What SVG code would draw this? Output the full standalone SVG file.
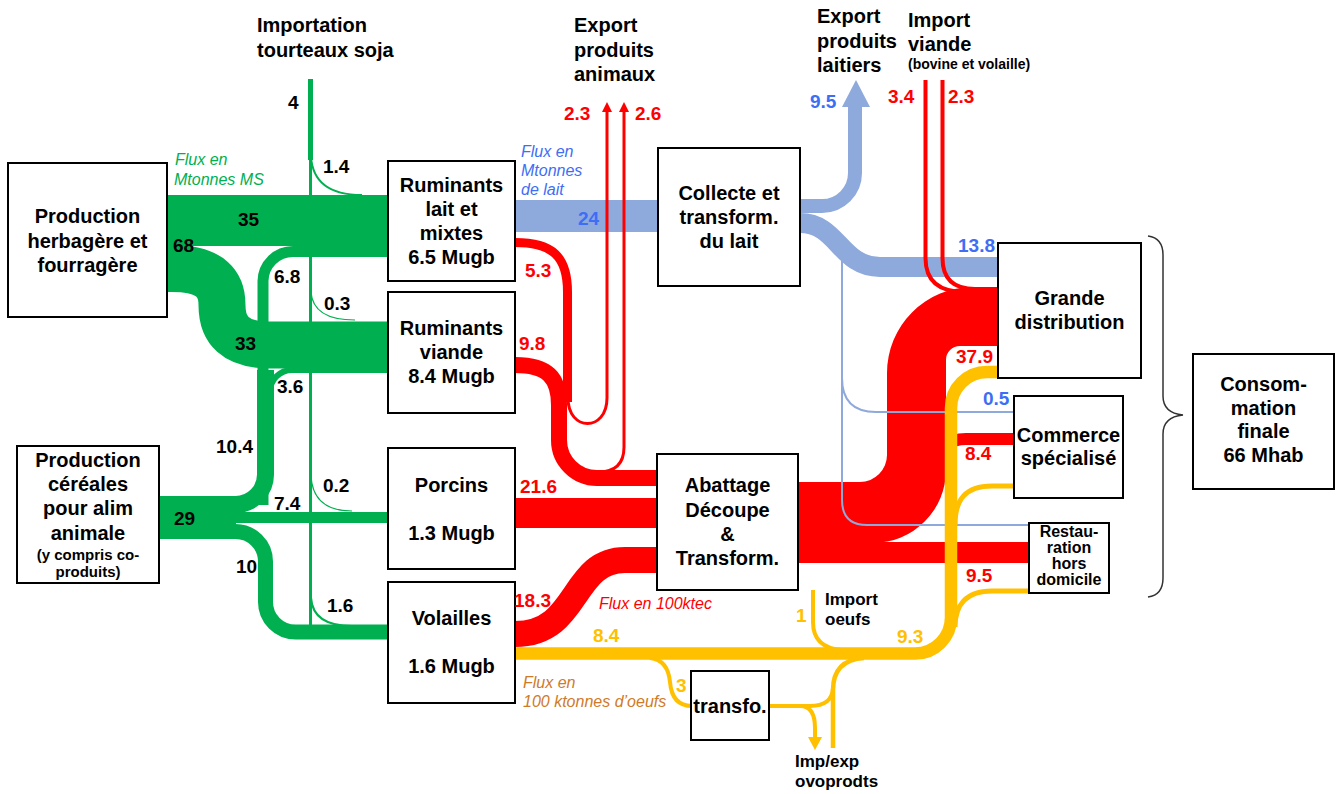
<svg xmlns="http://www.w3.org/2000/svg" width="1344" height="794" viewBox="0 0 1344 794">
<style>
text{font-family:"Liberation Sans",Arial,sans-serif;font-weight:bold;fill:#000}
.n{font-size:20px;text-anchor:middle}
.h{font-size:20px}
.v{font-size:19px}
.s{font-size:17px}
.rs{font-size:16px;text-anchor:middle}
.it{font-style:italic;font-weight:normal;font-size:16px}
.box{fill:#fff;stroke:#000;stroke-width:2}
.g{fill:none;stroke:#00B050}
.r{fill:none;stroke:#FF0000}
.bl{fill:none;stroke:#8EA9DB}
.y{fill:none;stroke:#FFC000}
.tr{fill:#FF0000}
.tb{fill:#3D6EF5}
.ty{fill:#FFC000}
</style>

<g id="connectors">
<!-- green -->
<rect x="167" y="195" width="221" height="51" fill="#00B050"/>
<path class="g" stroke-width="47" d="M160,268.5 H172 C212,268.5 222,285 222,305 C222,330 235,345 270,345 H388"/>
<path class="g" stroke-width="11" d="M263,505 V281 A30,30 0 0 1 293,251.5 H388"/>
<path class="g" stroke-width="17" d="M265.5,370 V474 A30,30 0 0 1 235.5,504.5 H160"/>
<path class="g" stroke-width="6" d="M270,402 V392 A22,22 0 0 1 292,370 H388"/>
<rect x="159" y="497" width="77" height="41" fill="#00B050"/>
<path class="g" stroke-width="11" d="M200,517.5 H388"/>
<path class="g" stroke-width="15" d="M160,531.5 H235 A30,30 0 0 1 265.5,561.5 V602 A30,30 0 0 0 295.5,632 H388"/>
<path class="g" stroke-width="5" d="M310.5,79 V160"/>
<path class="g" stroke-width="3" d="M310.5,158 V627"/>
<path class="g" stroke-width="2" d="M311,156 Q313,195 362,195"/>
<path class="g" stroke-width="1.2" d="M311,292 Q313,320 355,320"/>
<path class="g" stroke-width="1.2" d="M311,476 Q313,511 352,511"/>
<path class="g" stroke-width="2.2" d="M311,598 Q313,626 352,626"/>

<!-- blue -->
<rect x="515" y="200" width="143" height="32" fill="#8EA9DB"/>
<path class="bl" stroke-width="14" d="M800,206 H822 A33,33 0 0 0 855,173 V105"/>
<polygon points="842,107 870,107 856,80" fill="#8EA9DB"/>
<path class="bl" stroke-width="20" d="M800,223 C838,223 840,267 880,267 H998"/>

<!-- red -->
<path class="r" stroke-width="9" d="M515,242.5 C552,242.5 567.5,256 567.5,292 V402"/>
<path class="r" stroke-width="16" d="M515,365 C548,365 559,378 559,405 V440 A38,38 0 0 0 597,478 H657"/>
<path class="r" stroke-width="3" d="M568,398 C568,432 607,432 607,398 V110"/>
<polygon points="602,112 612,112 607,102" fill="#FF0000"/>
<path class="r" stroke-width="3" d="M598,472 Q624,472 624,447 V110"/>
<polygon points="619,112 629,112 624,102" fill="#FF0000"/>
<rect x="515" y="498" width="142" height="30" fill="#FF0000"/>
<path class="r" stroke-width="26" d="M515,634 C580,634 570,560 625,560 H657"/>
<path d="M798,482 H860 A27,27 0 0 0 887,455 V373 A86,86 0 0 1 973,287 H998 V346 H960 A14,14 0 0 0 946,360 V470 A73,73 0 0 1 873,543 H798 Z" fill="#FF0000"/>
<path class="r" stroke-width="12" d="M940,482 V465 Q940,439 966,439 H1014"/>
<rect x="798" y="542" width="231" height="21" fill="#FF0000"/>
<path class="r" stroke-width="4" d="M925.5,80 V258 Q925.5,292 965,292 H998"/>
<path class="r" stroke-width="4" d="M942.5,80 V258 Q942.5,289 975,289 H998"/>

<!-- blue thin -->
<path class="bl" stroke-width="2" d="M842,255 V378 Q842,412 876,412 H1014"/>
<path class="bl" stroke-width="2" d="M842,376 V500 Q842,525 867,525 H1029"/>

<!-- yellow -->
<path class="y" stroke-width="12.5" d="M515,653.5 H915 A36,36 0 0 0 951,617.5 V408 A36,36 0 0 1 987,372 H999"/>
<path class="y" stroke-width="5" d="M955,525 C955,500 965,486 992,486 H1014"/>
<path class="y" stroke-width="5" d="M955,627 C955,606 965,591 992,591 H1029"/>
<path class="y" stroke-width="4" d="M813,590 V622 Q813,648 842,650"/>
<path class="y" stroke-width="4" d="M650,658 Q668,660 670,682 Q672,706 692,706"/>
<path class="y" stroke-width="4" d="M769,706 H800 Q815,706 815,728 V738"/>
<polygon points="808,737 822,737 815,750" fill="#FFC000"/>
<path class="y" stroke-width="4" d="M795,706 H810 Q832,706 833,688"/>
<path class="y" stroke-width="4.5" d="M833,748 V690 Q833,660 864,658"/>
</g>

<g id="n-herbagere"><rect class="box" x="8" y="163" width="159" height="154"/>
<text class="n" x="87.5" y="223">Production</text><text class="n" x="87.5" y="247.5">herbagère et</text><text class="n" x="87.5" y="272">fourragère</text></g>
<g id="n-cereales"><rect class="box" x="17" y="446" width="142" height="137"/>
<text class="n" x="88" y="467">Production</text><text class="n" x="88" y="491">céréales</text><text class="n" x="88" y="515">pour alim</text><text class="n" x="88" y="540">animale</text>
<text x="88" y="560" style="font-size:15px;text-anchor:middle">(y compris co-</text><text x="88" y="577" style="font-size:15px;text-anchor:middle">produits)</text></g>
<g id="n-rlait"><rect class="box" x="388" y="161" width="127" height="120"/>
<text class="n" x="451.5" y="192">Ruminants</text><text class="n" x="451.5" y="216">lait et</text><text class="n" x="451.5" y="240">mixtes</text><text class="n" x="451.5" y="264">6.5 Mugb</text></g>
<g id="n-rviande"><rect class="box" x="388" y="292" width="127" height="121"/>
<text class="n" x="451.5" y="335">Ruminants</text><text class="n" x="451.5" y="359">viande</text><text class="n" x="451.5" y="383">8.4 Mugb</text></g>
<g id="n-porcins"><rect class="box" x="388" y="448" width="127" height="121"/>
<text class="n" x="451.5" y="492">Porcins</text><text class="n" x="451.5" y="540">1.3 Mugb</text></g>
<g id="n-volailles"><rect class="box" x="388" y="582" width="127" height="121"/>
<text class="n" x="451.5" y="625">Volailles</text><text class="n" x="451.5" y="673">1.6 Mugb</text></g>
<g id="n-collecte"><rect class="box" x="658" y="148" width="142" height="138"/>
<text class="n" x="729" y="200">Collecte et</text><text class="n" x="729" y="224">transform.</text><text class="n" x="729" y="248">du lait</text></g>
<g id="n-abattage"><rect class="box" x="657" y="454" width="141" height="136"/>
<text class="n" x="727.5" y="492">Abattage</text><text class="n" x="727.5" y="517">Découpe</text><text class="n" x="727.5" y="541">&amp;</text><text class="n" x="727.5" y="565">Transform.</text></g>
<g id="n-gd"><rect class="box" x="998" y="243" width="143" height="135"/>
<text class="n" x="1069.5" y="305">Grande</text><text class="n" x="1069.5" y="329">distribution</text></g>
<g id="n-commerce"><rect class="box" x="1014" y="396" width="109" height="102"/>
<text class="n" x="1068.5" y="442">Commerce</text><text class="n" x="1068.5" y="465">spécialisé</text></g>
<g id="n-restau"><rect class="box" x="1029" y="523" width="80" height="70"/>
<text class="rs" x="1069" y="537">Restau-</text><text class="rs" x="1069" y="553">ration</text><text class="rs" x="1069" y="569">hors</text><text class="rs" x="1069" y="585">domicile</text></g>
<g id="n-transfo"><rect class="box" x="691" y="671" width="78" height="69"/>
<text class="n" x="730" y="713">transfo.</text></g>
<g id="n-conso"><rect class="box" x="1193" y="354" width="141" height="135"/>
<text class="n" x="1263.5" y="391">Consom-</text><text class="n" x="1263.5" y="414.5">mation</text><text class="n" x="1263.5" y="438">finale</text><text class="n" x="1263.5" y="462">66 Mhab</text></g>
<g id="brace"><path d="M1148,236 Q1163,238 1163,255 V396 Q1163,413 1183,415 Q1163,417 1163,434 V578 Q1163,595 1148,597" fill="none" stroke="#333" stroke-width="1.5"/></g>

<g id="labels">
<text class="h" x="257" y="32">Importation</text><text class="h" x="257" y="57">tourteaux soja</text>
<text class="h" x="574" y="32">Export</text><text class="h" x="574" y="57">produits</text><text class="h" x="574" y="81">animaux</text>
<text class="h" x="817" y="23">Export</text><text class="h" x="817" y="47.5">produits</text><text class="h" x="817" y="72">laitiers</text>
<text class="h" x="908" y="27">Import</text><text class="h" x="908" y="51">viande</text><text x="908" y="69" style="font-size:14px">(bovine et volaille)</text>
<text class="s" x="825" y="605">Import</text><text class="s" x="825" y="625">oeufs</text>
<text class="s" x="795" y="767">Imp/exp</text><text class="s" x="795" y="787">ovoprodts</text>

<text class="it" x="175" y="165" style="fill:#00B050">Flux en</text><text class="it" x="174" y="185" style="fill:#00B050">Mtonnes MS</text>
<text class="it" x="521" y="157" style="fill:#3D6EF5">Flux en</text><text class="it" x="521" y="176" style="fill:#3D6EF5">Mtonnes</text><text class="it" x="521" y="195" style="fill:#3D6EF5">de lait</text>
<text class="it" x="599" y="609" style="fill:#FF0000">Flux en 100ktec</text>
<text class="it" x="523" y="688" style="fill:#D07A28">Flux en</text><text class="it" x="523" y="707" style="fill:#D07A28">100 ktonnes d’oeufs</text>

<text class="v" x="288" y="109">4</text>
<text class="v" x="323" y="173">1.4</text>
<text class="v" x="238" y="226">35</text>
<text class="v" x="173" y="252">68</text>
<text class="v" x="274" y="283">6.8</text>
<text class="v" x="324" y="310">0.3</text>
<text class="v" x="235" y="350">33</text>
<text class="v" x="277" y="393">3.6</text>
<text class="v" x="216" y="453">10.4</text>
<text class="v" x="323" y="492">0.2</text>
<text class="v" x="274" y="510">7.4</text>
<text class="v" x="174" y="525">29</text>
<text class="v" x="236" y="573">10</text>
<text class="v" x="327" y="612">1.6</text>

<text class="v tr" x="564" y="120">2.3</text>
<text class="v tr" x="635" y="120">2.6</text>
<text class="v tr" x="525" y="277">5.3</text>
<text class="v tr" x="519" y="350">9.8</text>
<text class="v tr" x="520" y="493">21.6</text>
<text class="v tr" x="514" y="607">18.3</text>
<text class="v tr" x="888" y="103">3.4</text>
<text class="v tr" x="948" y="103">2.3</text>
<text class="v tr" x="956" y="363">37.9</text>
<text class="v tr" x="965" y="460">8.4</text>
<text class="v tr" x="966" y="582">9.5</text>

<text class="v tb" x="578" y="225">24</text>
<text class="v tb" x="810" y="108">9.5</text>
<text class="v tb" x="958" y="252">13.8</text>
<text class="v tb" x="983" y="405">0.5</text>

<text class="v ty" x="593" y="642">8.4</text>
<text class="v ty" x="676" y="692">3</text>
<text class="v ty" x="796" y="622">1</text>
<text class="v ty" x="897" y="643">9.3</text>
</g>
</svg>
